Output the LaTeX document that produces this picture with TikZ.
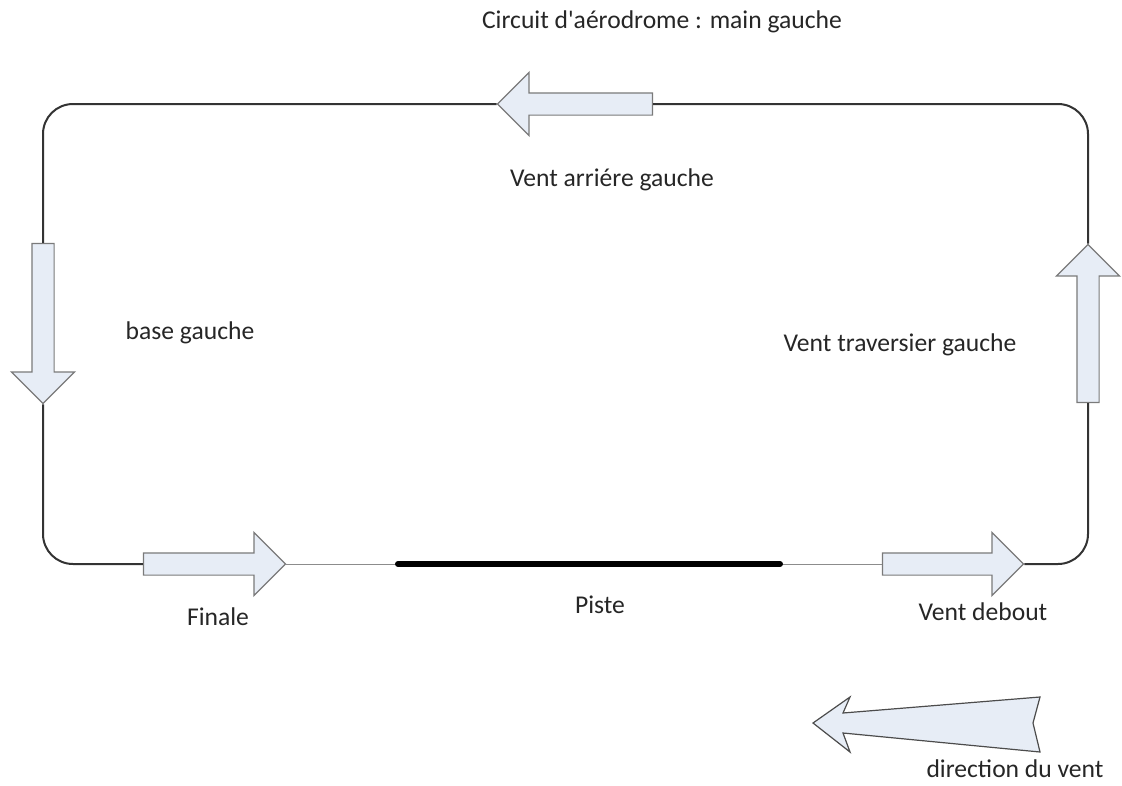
\documentclass[tikz,border=0pt]{standalone}
\usepackage{fontspec}
\setmainfont{Carlito}
\usetikzlibrary{shapes.arrows}
\definecolor{flechefond}{HTML}{E7EDF6}
\definecolor{flechebord}{HTML}{7A7A7A}
\begin{document}
\begin{tikzpicture}[x=1pt,y=-1pt,
    bloc/.style={single arrow,draw=flechebord,fill=flechefond,line width=1.2pt,
      inner sep=0pt,text height=21pt,text depth=0pt,single arrow head extend=20.5pt,
      single arrow tip angle=90,single arrow head indent=0pt},
    lbl/.style={font=\fontsize{25.6}{30}\selectfont,text=black!85}]
  \useasboundingbox (0,0) rectangle (1122,785);
  \draw
    (209,564) node[bloc,minimum height=142pt] (finale){}
    (947.5,564) node[bloc,minimum height=141pt] (vdebout){}
    (1088,329) node[bloc,minimum height=158pt,rotate=90] (vtravers){}
    (580.5,104) node[bloc,minimum height=155pt,rotate=180] (varriere){}
    (43,318) node[bloc,minimum height=160pt,rotate=270] (base){};
  \coordinate (pa) at (398,564);
  \coordinate (pb) at (780,564);
  \draw
    (662,22) node[lbl] (titre){Circuit d\textquotesingle aérodrome : main gauche}
    (612,180) node[lbl] (larriere){Vent arriére gauche}
    (190,333) node[lbl] (lbase){base gauche}
    (900,345) node[lbl] (ltravers){Vent traversier gauche}
    (218,617) node[lbl] (lfinale){Finale}
    (600,605) node[lbl] (lpiste){Piste}
    (983,612) node[lbl] (ldebout){Vent debout}
    (1015,769) node[lbl] (lvent){direction du vent};
  \begin{scope}[rounded corners=30pt,line width=2pt,draw=black!80]
    \draw (vdebout.tip) -| (vtravers.tail);
    \draw (vtravers.tip) |- (varriere.tail);
    \draw (varriere.tip) -| (base.tail);
    \draw (base.tip) |- (finale.tail);
  \end{scope}
  \begin{scope}[draw=black!45,line width=1pt]
    \draw (finale.tip) -- (pa);
    \draw (pb) -- (vdebout.tail);
  \end{scope}
  \draw[line width=6pt,line cap=round] (pa) -- (pb);
  \draw[draw=black!70,fill=flechefond,line width=1.2pt]
    (813,723) -- (850,697) -- (843,713) -- (1040,697) -- (1033,723)
    -- (1040,752) -- (843,733) -- (850,752) -- cycle;
\end{tikzpicture}
\end{document}
